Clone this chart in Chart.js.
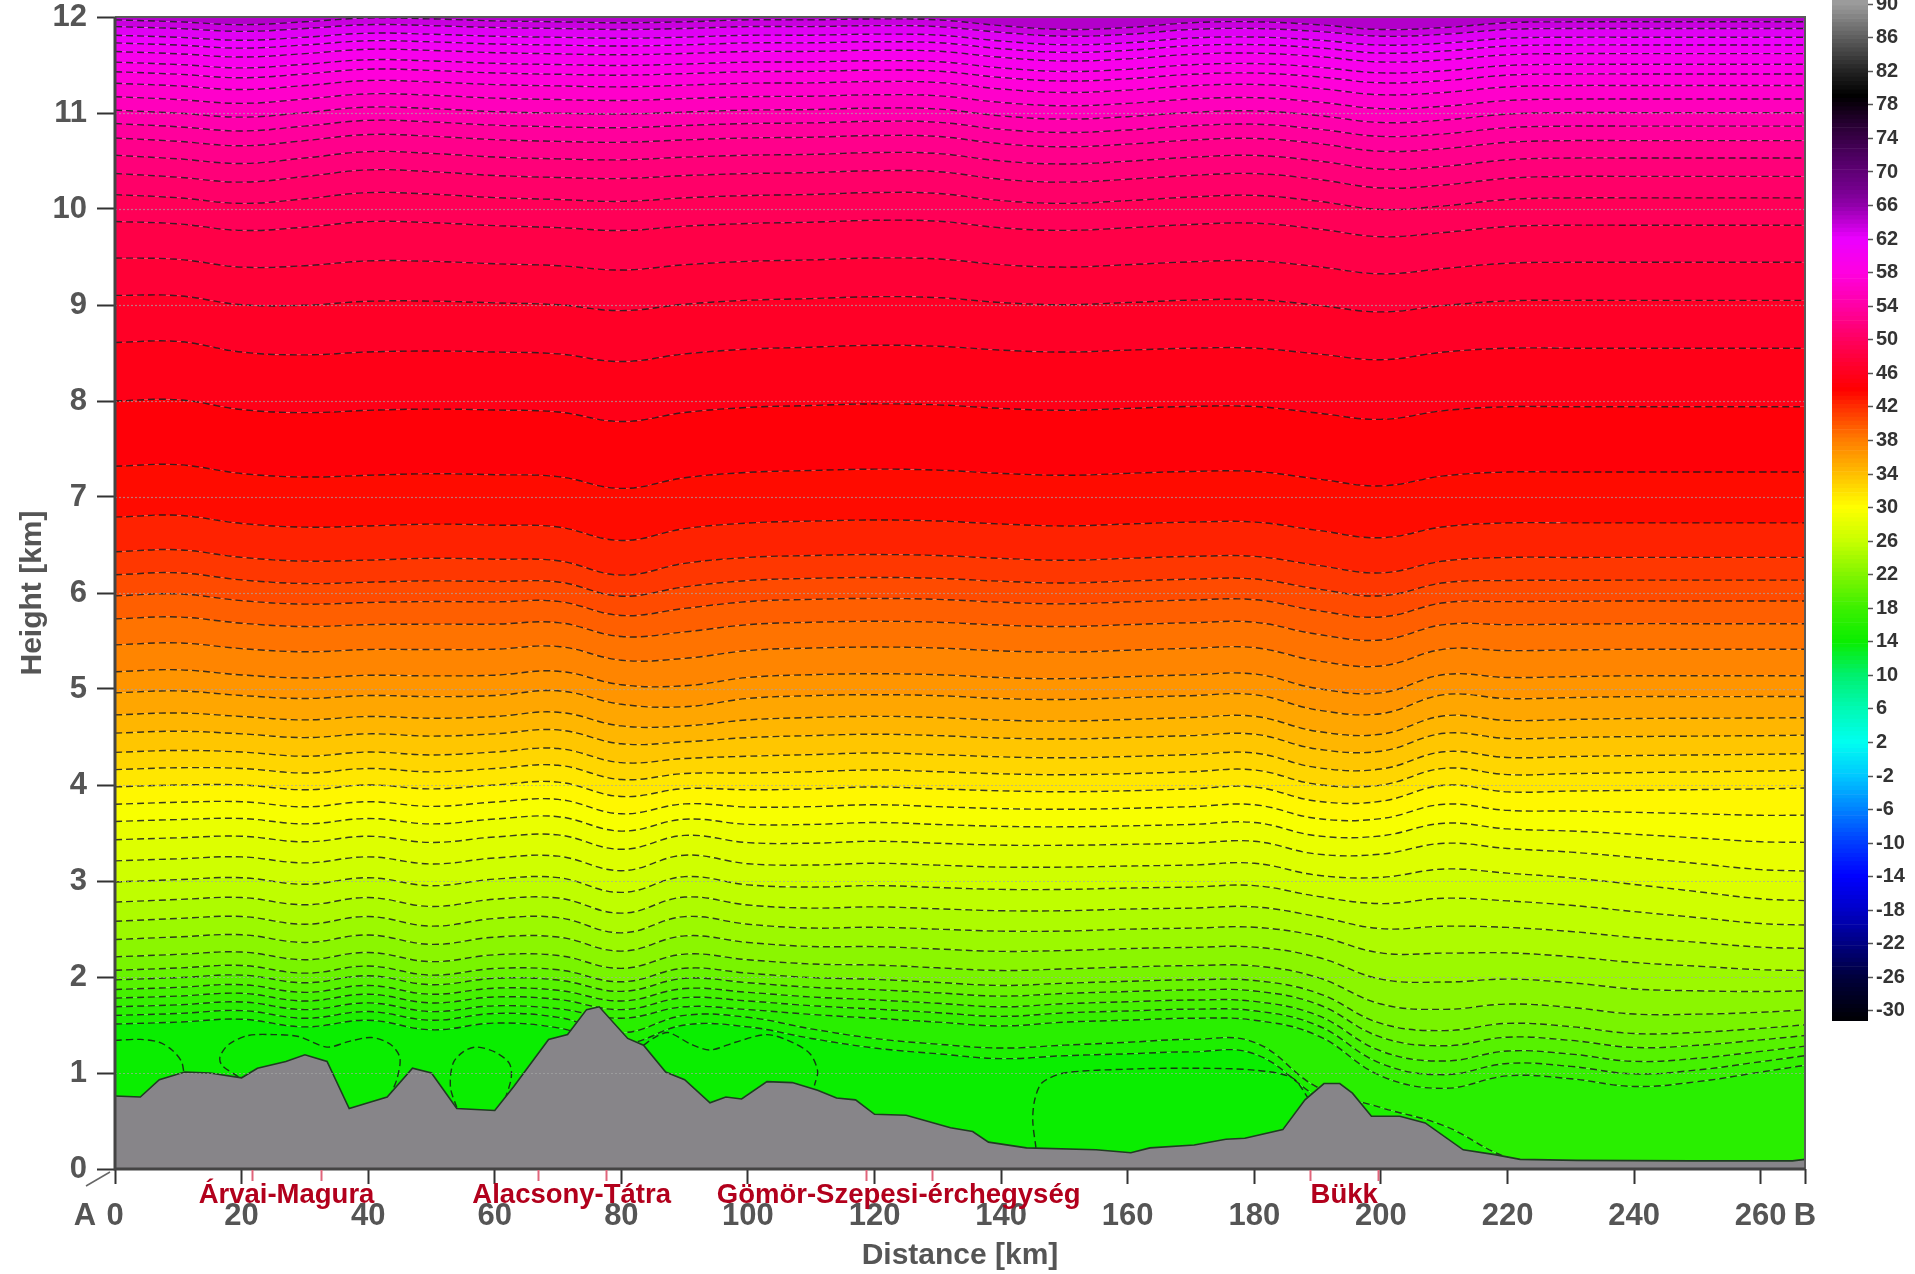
<!DOCTYPE html>
<html>
<head>
<meta charset="utf-8">
<title>Cross-section A-B</title>
<script src="https://cdn.jsdelivr.net/npm/chart.js@4.4.0/dist/chart.umd.min.js"></script>
<style>
  html, body { margin: 0; padding: 0; background: #fff; }
  #wrap { position: relative; width: 1915px; height: 1274px; }
  #main { position: absolute; left: 0; top: 0; }
  #bar { position: absolute; left: 1832px; top: 0; }
</style>
</head>
<body>
<div id="wrap">
  <canvas id="main" width="1830" height="1274"></canvas>
  <canvas id="bar" width="83" height="1274"></canvas>
</div>
<script>
// ---- data ----
const stationKm = [0,10,20,30,40,50,60,70,80,90,100,110,120,130,140,150,160,170,180,190,200,210,220,230,240,250,260,267];

const terrainKm = [0,4,7,11,15,20,22.5,27,30,33.5,37,40,43,47,50,54,60,63,68.5,71.5,74.5,76.5,81,83.5,87,90,94,96.5,99,103,107,111,114,117,120,125,132,135.5,138,144,155,160.5,163.5,170.5,175.5,178.5,184.5,188,191,193.5,195.5,198.5,203,207,213,218,222,231,249,265,267];
const terrainHeightKm = [0.76,0.75,0.93,1.01,1.00,0.95,1.05,1.12,1.19,1.12,0.63,0.69,0.75,1.05,1.00,0.63,0.61,0.86,1.35,1.40,1.66,1.69,1.36,1.29,1.01,0.93,0.69,0.75,0.73,0.91,0.90,0.82,0.74,0.72,0.57,0.56,0.43,0.39,0.28,0.22,0.20,0.17,0.22,0.25,0.31,0.32,0.41,0.72,0.89,0.89,0.79,0.55,0.55,0.48,0.20,0.15,0.10,0.09,0.085,0.085,0.10];

// contour values and their height at point A (x = 0)
const contourLevels = [17,18,19,20,21,22,23,24,25,26,27,28,29,30,31,32,33,34,35,36,37,38,39,40,41,42,43,44,45,46,47,48,49,50,51,52,53,54,55,56,57,58,59,60,61,62,63,64];
const contourBaseKm = [1.69,1.78,1.87,1.97,2.07,2.21,2.39,2.58,2.78,2.99,3.21,3.43,3.62,3.80,3.98,4.16,4.34,4.54,4.73,4.96,5.18,5.46,5.73,5.97,6.19,6.43,6.79,7.32,8.00,8.61,9.10,9.49,9.87,10.15,10.37,10.56,10.74,10.89,11.03,11.17,11.31,11.43,11.53,11.64,11.73,11.81,11.90,11.97];

// vertical shift of the contours along the section, read for a few height bands
const bandBaseKm = [1.69, 2.6, 3.3, 4.0, 5.0, 6.5, 8.6, 10.4, 11.9];
const bandShiftKm = [
  [0,0.02,0.05,-0.03,0.04,-0.05,0.01,-0.02,-0.12,0,-0.03,-0.08,-0.12,-0.16,-0.2,-0.16,-0.14,-0.12,-0.14,-0.3,-0.72,-0.85,-0.72,-0.75,-0.83,-0.78,-0.68,-0.61],
  [0,0.03,0.05,-0.03,0.05,-0.05,0.03,0.04,-0.12,0.05,-0.03,-0.07,-0.06,-0.08,-0.1,-0.1,-0.08,-0.07,-0.06,-0.15,-0.32,-0.32,-0.32,-0.36,-0.42,-0.46,-0.5,-0.51],
  [0,0.02,0.04,-0.02,0.04,-0.03,0.03,0.05,-0.1,0.06,-0.03,-0.04,-0.02,-0.04,-0.06,-0.06,-0.05,-0.04,-0.02,-0.15,-0.15,-0.05,-0.1,-0.15,-0.22,-0.3,-0.38,-0.4],
  [0,0.02,0.02,-0.03,0.02,-0.02,0.02,0.05,-0.1,-0.02,-0.03,-0.02,0,-0.02,-0.04,-0.05,-0.04,-0.02,0,-0.15,-0.15,0.02,-0.05,-0.04,-0.03,-0.02,-0.01,0],
  [0,0.02,-0.03,-0.06,-0.03,-0.04,-0.03,0.02,-0.12,-0.15,-0.06,-0.03,-0.02,-0.03,-0.06,-0.07,-0.05,-0.03,-0.02,-0.18,-0.22,-0.02,-0.06,-0.05,-0.04,-0.04,-0.04,-0.04],
  [0,0.02,-0.06,-0.1,-0.09,-0.07,-0.08,-0.1,-0.25,-0.12,-0.06,-0.04,-0.03,-0.04,-0.07,-0.09,-0.07,-0.05,-0.05,-0.14,-0.22,-0.1,-0.06,-0.06,-0.06,-0.06,-0.06,-0.06],
  [0,0.01,-0.1,-0.13,-0.1,-0.09,-0.1,-0.12,-0.2,-0.12,-0.07,-0.05,-0.03,-0.04,-0.08,-0.1,-0.08,-0.06,-0.06,-0.12,-0.18,-0.1,-0.06,-0.06,-0.06,-0.06,-0.06,-0.06],
  [0,-0.04,-0.09,-0.03,0.04,0.02,-0.02,-0.04,-0.05,-0.02,0,0.01,0.03,0.02,-0.06,-0.09,-0.06,-0.02,0,-0.06,-0.15,-0.12,-0.05,-0.03,-0.03,-0.03,-0.03,-0.03],
  [0,-0.02,-0.05,-0.02,0.02,0.01,-0.01,-0.02,-0.03,-0.02,0,0,0.01,0,-0.06,-0.1,-0.08,-0.03,-0.02,-0.05,-0.1,-0.08,-0.03,-0.02,-0.02,-0.02,-0.02,-0.02]
];

// the two lowest full contours (they run into the ground on the right)
const lowLevels = [15, 16];
const lowContourKm = [
  [1.51,1.53,1.56,1.48,1.55,1.45,1.52,1.47,1.30,1.50,1.48,1.36,1.26,1.20,1.15,1.18,1.20,1.22,1.20,0.75,0.40,0.20,0,0,0,0,0,0],
  [1.60,1.62,1.65,1.57,1.64,1.55,1.62,1.58,1.42,1.60,1.58,1.46,1.36,1.30,1.26,1.29,1.32,1.35,1.32,0.85,0.64,0.45,0.12,0,0,0,0,0]
];

// closed contour pieces near the ground (level 14), null separates pieces
const groundLoopKm = [0,4,7,9,10.5,10.9,null,19.5,16.9,16.6,18,21,25,29,33.5,37,40.5,43.5,45,44.6,43.6,null,54,53,53.4,55,57,60,62.3,62.6,61.6,null,83.5,85.5,87.5,91,94,98,103,107,109.8,111,110.5,null,145.5,145,145.3,146.5,150,160,170,180,186,188.5];
const groundLoopHeightKm = [1.34,1.35,1.32,1.24,1.12,1.0,null,0.96,1.08,1.17,1.3,1.39,1.40,1.38,1.27,1.33,1.37,1.30,1.16,0.95,0.78,null,0.64,0.85,1.1,1.22,1.27,1.22,1.1,0.95,0.72,null,1.29,1.38,1.42,1.3,1.24,1.32,1.40,1.32,1.2,1.02,0.87,null,0.22,0.5,0.72,0.9,1.0,1.04,1.05,1.03,0.95,0.74];

const distanceTicks = [0,20,40,60,80,100,120,140,160,180,200,220,240,260];
const heightTicks = [0,1,2,3,4,5,6,7,8,9,10,11,12];

const rangeNames = ['Árvai-Magura', 'Alacsony-Tátra', 'Gömör-Szepesi-érchegység', 'Bükk'];
const rangeStartKm = [21.6, 66.8, 118.6, 188.8];
const rangeEndKm = [32.6, 77.5, 129.0, 199.6];

const colorbarTicks = [90,86,82,78,74,70,66,62,58,54,50,46,42,38,34,30,26,22,18,14,10,6,2,-2,-6,-10,-14,-18,-22,-26,-30];
const colorStops = [
  [90,155,155,155],[86,95,95,95],[82,35,35,35],[79,0,0,0],[76,35,0,45],[72,75,0,95],
  [68,115,0,140],[66,145,0,170],[62,235,0,255],[58,255,0,225],[54,255,0,165],[50,255,0,95],
  [46,255,0,30],[44,255,0,0],[42,255,45,0],[38,255,125,0],[34,255,190,0],[30,255,255,0],
  [26,200,255,0],[22,130,245,0],[18,60,240,0],[14,10,238,0],[10,0,240,110],[6,0,250,180],
  [2,0,255,240],[-2,0,200,255],[-6,0,130,255],[-10,0,60,255],[-14,0,0,255],[-18,0,0,200],
  [-22,0,0,130],[-26,0,0,60],[-31,0,0,5]
];

// ---- helpers ----
const stops = colorStops.slice().sort((a, b) => a[0] - b[0]);
function levelColor(v) {
  if (v <= stops[0][0]) return `rgb(${stops[0][1]},${stops[0][2]},${stops[0][3]})`;
  for (let i = 0; i < stops.length - 1; i++) {
    const a = stops[i], b = stops[i + 1];
    if (v <= b[0]) {
      const t = (v - a[0]) / (b[0] - a[0]);
      const c = [1, 2, 3].map(k => Math.round(a[k] + (b[k] - a[k]) * t));
      return `rgb(${c[0]},${c[1]},${c[2]})`;
    }
  }
  const l = stops[stops.length - 1];
  return `rgb(${l[1]},${l[2]},${l[3]})`;
}

function shiftFor(base, j) {
  const b = bandBaseKm;
  if (base <= b[0]) return bandShiftKm[0][j];
  for (let k = 0; k < b.length - 1; k++) {
    if (base <= b[k + 1]) {
      const t = (base - b[k]) / (b[k + 1] - b[k]);
      return bandShiftKm[k][j] * (1 - t) + bandShiftKm[k + 1][j] * t;
    }
  }
  return bandShiftKm[b.length - 1][j];
}

Chart.defaults.font.family = "'Liberation Sans', Arial, Helvetica, sans-serif";
Chart.defaults.font.weight = 'bold';
Chart.defaults.color = '#555';

const dashed = {
  borderColor: 'rgba(25,25,25,0.85)',
  borderWidth: 1.4,
  borderDash: [7, 4],
  pointRadius: 0,
  tension: 0.4
};

// ---- datasets ----
const terrainSet = {
  label: 'terrain',
  data: terrainKm.map((x, i) => ({ x, y: terrainHeightKm[i] })),
  borderColor: '#203c22',
  borderWidth: 1.6,
  backgroundColor: '#878589',
  fill: 'origin',
  pointRadius: 0,
  tension: 0
};

let prevX = 0;
const loopSet = {
  label: 'level 14',
  data: groundLoopKm.map((x, i) => {
    if (x === null) return { x: prevX, y: null };
    prevX = x;
    return { x, y: groundLoopHeightKm[i] };
  }),
  fill: false,
  spanGaps: false,
  ...dashed,
  tension: 0.3
};

const lowSets = lowLevels.map((lev, i) => ({
  label: 'level ' + lev,
  data: stationKm.map((x, j) => ({ x, y: lowContourKm[i][j] })),
  fill: i === 0 ? 'origin' : '-1',
  backgroundColor: levelColor(i === 0 ? lev - 1 : lev - 0.5),
  ...dashed
}));

const contourSets = contourLevels.map((lev, i) => ({
  label: 'level ' + lev,
  data: stationKm.map((x, j) => ({ x, y: contourBaseKm[i] + shiftFor(contourBaseKm[i], j) })),
  fill: '-1',
  backgroundColor: levelColor(lev - 0.5),
  ...dashed
}));

const lastLevel = contourLevels[contourLevels.length - 1];
const topSet = {
  label: 'above ' + lastLevel,
  data: contourSets[contourSets.length - 1].data,
  fill: 'end',
  backgroundColor: levelColor(lastLevel + 0.5),
  borderWidth: 0,
  pointRadius: 0,
  tension: 0.4
};

// ---- overlay: grid dots, frame, range marks ----
const overlay = {
  id: 'overlay',
  afterDatasetsDraw(chart) {
    const { ctx, chartArea: a, scales: { y } } = chart;
    ctx.save();
    ctx.setLineDash([2, 2]);
    ctx.lineWidth = 1.2;
    ctx.strokeStyle = 'rgba(165,165,165,0.7)';
    heightTicks.slice(1, -1).forEach(h => {
      const py = Math.round(y.getPixelForValue(h)) + 0.5;
      ctx.beginPath(); ctx.moveTo(a.left, py); ctx.lineTo(a.right, py); ctx.stroke();
    });
    ctx.setLineDash([]);
    ctx.strokeStyle = '#5a5a5a';
    ctx.lineWidth = 2;
    ctx.beginPath();
    ctx.moveTo(a.left, a.top); ctx.lineTo(a.right, a.top); ctx.lineTo(a.right, a.bottom);
    ctx.stroke();
    ctx.strokeStyle = '#444';
    ctx.lineWidth = 3;
    ctx.beginPath();
    ctx.moveTo(a.left, a.top); ctx.lineTo(a.left, a.bottom); ctx.lineTo(a.right, a.bottom);
    ctx.stroke();
    ctx.restore();
  },
  afterDraw(chart) {
    const { ctx, chartArea: a, scales: { x } } = chart;
    ctx.save();
    ctx.strokeStyle = '#e0647a';
    ctx.lineWidth = 2;
    rangeStartKm.forEach((s, i) => {
      [s, rangeEndKm[i]].forEach(k => {
        const px = Math.round(x.getPixelForValue(k)) + 0.5;
        ctx.beginPath(); ctx.moveTo(px, a.bottom + 1); ctx.lineTo(px, a.bottom + 12); ctx.stroke();
      });
    });
    ctx.fillStyle = '#b2001c';
    ctx.font = "bold 27.5px 'Liberation Sans', Arial, sans-serif";
    ctx.textAlign = 'center';
    ctx.textBaseline = 'middle';
    rangeNames.forEach((name, i) => {
      const px = x.getPixelForValue((rangeStartKm[i] + rangeEndKm[i]) / 2);
      ctx.fillText(name, px, a.bottom + 26);
    });
    ctx.fillStyle = '#555';
    ctx.font = "bold 31px 'Liberation Sans', Arial, sans-serif";
    ctx.fillText('A', x.getPixelForValue(0) - 30, a.bottom + 47);
    ctx.strokeStyle = '#666';
    ctx.lineWidth = 1.5;
    ctx.beginPath(); ctx.moveTo(a.left - 29, a.bottom + 17); ctx.lineTo(a.left - 5, a.bottom + 3); ctx.stroke();
    ctx.restore();
  }
};

new Chart(document.getElementById('main'), {
  type: 'line',
  data: { datasets: [terrainSet, loopSet, ...lowSets, ...contourSets, topSet] },
  options: {
    responsive: false,
    animation: false,
    devicePixelRatio: 1,
    layout: { autoPadding: false, padding: { left: 0, right: 25, top: 17, bottom: 0 } },
    plugins: { legend: { display: false }, tooltip: { enabled: false } },
    scales: {
      x: {
        type: 'linear', min: 0, max: 267,
        afterBuildTicks: s => { s.ticks = distanceTicks.concat([267]).map(v => ({ value: v })); },
        afterFit: s => { s.height = 105; s.paddingLeft = 0; s.paddingRight = 0; },
        ticks: {
          autoSkip: false, maxRotation: 0, padding: 14,
          font: { size: 31, weight: 'bold' }, color: '#555',
          callback: v => (v === 267 ? 'B' : String(v))
        },
        grid: { display: true, drawOnChartArea: false, drawTicks: true, tickLength: 15, tickColor: '#333', tickWidth: 2 },
        border: { display: false },
        title: { display: true, text: 'Distance [km]', font: { size: 30, weight: 'bold' }, color: '#555', padding: { top: 2, bottom: 0 } }
      },
      y: {
        type: 'linear', min: 0, max: 12,
        afterBuildTicks: s => { s.ticks = heightTicks.map(v => ({ value: v })); },
        afterFit: s => { s.width = 115; s.paddingTop = 0; s.paddingBottom = 0; },
        ticks: { font: { size: 31, weight: 'bold' }, color: '#555', padding: 10 },
        grid: { display: true, drawOnChartArea: false, drawTicks: true, tickLength: 18, tickColor: '#333', tickWidth: 2 },
        border: { display: false },
        title: { display: true, text: 'Height [km]', font: { size: 30, weight: 'bold' }, color: '#555', padding: { top: 15, bottom: 0 } }
      }
    }
  },
  plugins: [overlay]
});

// ---- colour bar ----
const colorbarMin = -31.2, colorbarMax = 90.5, colorbarStep = 0.5;
const barSegments = [];
for (let v = colorbarMin; v < colorbarMax; v += colorbarStep) {
  barSegments.push([v, Math.min(v + colorbarStep, colorbarMax)]);
}

new Chart(document.getElementById('bar'), {
  type: 'bar',
  data: {
    labels: ['scale'],
    datasets: barSegments.map(s => ({
      data: [s],
      backgroundColor: levelColor((s[0] + s[1]) / 2),
      borderWidth: 0,
      grouped: false,
      barPercentage: 1,
      categoryPercentage: 1
    }))
  },
  options: {
    responsive: false,
    animation: false,
    devicePixelRatio: 1,
    layout: { autoPadding: false, padding: { left: 0, right: 0, top: 0, bottom: 253 } },
    plugins: { legend: { display: false }, tooltip: { enabled: false } },
    scales: {
      x: { display: false },
      y: {
        position: 'right', min: colorbarMin, max: colorbarMax,
        afterBuildTicks: s => { s.ticks = colorbarTicks.map(v => ({ value: v })); },
        afterFit: s => { s.width = 47; s.paddingTop = 0; s.paddingBottom = 0; },
        ticks: { autoSkip: false, font: { size: 20, weight: 'bold' }, color: '#333', padding: 3 },
        grid: { drawOnChartArea: false, tickLength: 5, tickColor: '#555', tickWidth: 1.5 },
        border: { display: false }
      }
    }
  }
});
</script>
</body>
</html>
